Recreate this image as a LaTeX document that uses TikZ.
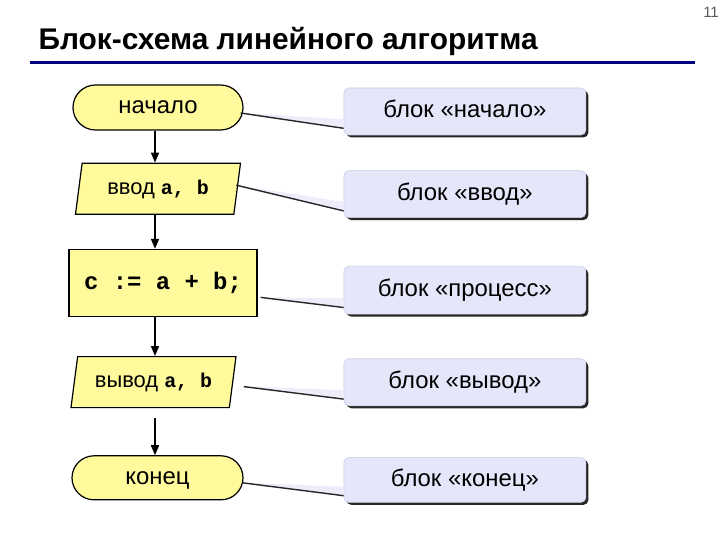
\documentclass[tikz,border=0pt]{standalone}
\usepackage{fontspec}
\setmainfont{Liberation Sans}
\setmonofont{Liberation Mono}
\usepackage{tikz}
\usetikzlibrary{arrows.meta,calc,positioning,shapes.geometric,shapes.misc,shadows}
\definecolor{titlenavy}{RGB}{0,0,128}
\definecolor{blockyellow}{RGB}{255,250,155}
\definecolor{notelilac}{RGB}{230,230,250}
\definecolor{noteedge}{RGB}{205,205,230}
\definecolor{pagegrey}{RGB}{90,90,90}
\tikzset{
  terminal/.style={rounded rectangle,draw,line width=1.2bp,fill=blockyellow,
    minimum width=170bp,minimum height=45bp,inner sep=0pt,
    text height=12.5bp,text depth=0pt,font=\fontsize{24}{28}\selectfont},
  inout/.style={trapezium,trapezium left angle=60,trapezium right angle=120,
    trapezium stretches body,draw,line width=1.2bp,fill=blockyellow,
    minimum width=165bp,minimum height=51bp,inner sep=0pt,
    text height=11.5bp,text depth=0pt,font=\fontsize{22}{26}\selectfont},
  process/.style={rectangle,draw,line width=1.2bp,fill=blockyellow,
    minimum width=188bp,minimum height=67bp,inner sep=0pt,
    text height=12.7bp,text depth=0pt,
    font=\ttfamily\bfseries\fontsize{24}{28}\selectfont},
  note/.style={rectangle,rounded corners=5bp,fill=notelilac,draw=noteedge,
    line width=0.6bp,minimum width=242bp,minimum height=47bp,inner sep=0pt,
    text height=12.5bp,text depth=0pt,font=\fontsize{24}{28}\selectfont,
    drop shadow={shadow xshift=2.5bp,shadow yshift=-2.5bp,fill=black!85,opacity=1}},
  flow/.style={-{Triangle[length=10bp,width=8bp]},line width=1.6bp},
  wedge/.style={fill=notelilac!75},
  pointer/.style={line width=1.4bp,draw=black!85}
}
\newcommand{\codeab}{{\ttfamily\bfseries\fontsize{20}{24}\selectfont a, b}}

\begin{document}
\begin{tikzpicture}[x=1bp,y=1bp]
  \useasboundingbox[fill=white] (0,0) rectangle (720,540);
  \node[anchor=base west,font=\bfseries\fontsize{30}{34}\selectfont] (title) at (35,490)
    {Блок-схема линейного алгоритма};
  \draw[titlenavy,line width=3bp] (30,477) -- (695,477);
  \node[pagegrey,font=\fontsize{15}{17}\selectfont] (pagenum) at (711,528) {11};

  \node[terminal] (start) at (158,432.5) {начало};
  \node[inout,below=32bp of start] (input) {ввод \codeab};
  \node[process,below=34bp of input,xshift=5bp] (calc) {c := a + b;\hspace{10bp}};
  \node[inout,below=39bp of calc,xshift=-9.5bp] (output) {вывод \codeab};
  \node[terminal,below=47bp of output,xshift=4bp,minimum width=171bp,
    minimum height=44bp] (finish) {конец};

  \coordinate (axis) at (155,0);
  \draw[flow] (start.south -| axis) -- (input.north -| axis);
  \draw[flow] (input.south -| axis) -- (calc.north -| axis);
  \draw[flow] (calc.south -| axis) -- (output.north -| axis);
  \draw[flow,shorten <=10bp] (output.south -| axis) -- (finish.north -| axis);

  \node[note,right=100bp of start,yshift=-4bp] (nstart) {блок «начало»};
  \node[note,below=35bp of nstart] (ninput) {блок «ввод»};
  \node[note,below=48bp of ninput,minimum height=48bp] (ncalc) {блок «процесс»};
  \node[note,below=44bp of ncalc] (noutput) {блок «вывод»};
  \node[note,below=51bp of noutput,minimum height=45bp] (nfinish) {блок «конец»};

  \foreach \blk/\nt/\dx/\dy in {start/nstart/-3/-5.5,input/ninput/-1.5/3.5,
      calc/ncalc/3/-14.5,output/noutput/10.5/-4.5,finish/nfinish/-1/-5}{
    \coordinate (tip) at ([xshift=\dx bp,yshift=\dy bp]\blk.east);
    \fill[wedge] (tip) -- ([yshift=16bp]\nt.south west)
      -- ([yshift=7bp]\nt.south west) -- cycle;
    \draw[pointer] (tip) -- ([yshift=7bp]\nt.south west);
  }
\end{tikzpicture}
\end{document}
